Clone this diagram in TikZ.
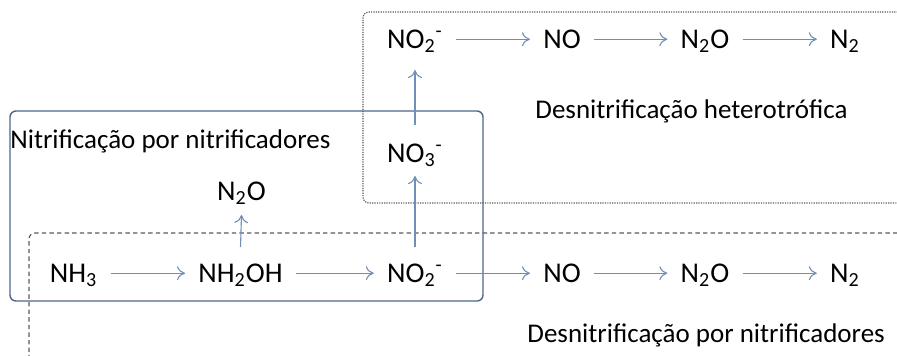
\documentclass[tikz,border=0pt]{standalone}
\usepackage{fontspec}
\setmainfont{Carlito}
\usetikzlibrary{arrows.meta}

\definecolor{flowblue}{HTML}{6F8FB8}
\definecolor{frameblue}{HTML}{4C6789}
\definecolor{framegray}{HTML}{5A5A5A}

\begin{document}
\begin{tikzpicture}[x=0.5pt, y=-0.5pt,
    chem/.style={font=\fontsize{14.3}{17}\selectfont, anchor=base, inner xsep=6.5pt, inner ysep=1pt},
    caption/.style={font=\fontsize{13.5}{16}\selectfont, anchor=base west, inner sep=0pt},
    flow/.style={-{To[length=4pt, width=7pt]}, flowblue, line width=0.55pt}]
  \useasboundingbox (0,0) rectangle (897,355);

  % frames
  \draw[frameblue, line width=0.7pt, rounded corners=3pt] (10,111) rectangle (483,301);
  \draw[framegray, line width=0.6pt, dash pattern=on 0.6pt off 0.6pt, rounded corners=3pt]
    (905,12) -- (363,12) -- (363,203) -- (905,203);
  \draw[framegray, line width=0.6pt, dash pattern=on 2.2pt off 1.6pt, rounded corners=3pt]
    (905,233) -- (29,233) -- (29,365);

  % lower row
  \node[chem] (NH3) at (73.5,282) {NH\textsubscript{3}};
  \node[chem] (NH2OH) at (240.5,282) {NH\textsubscript{2}OH};
  \node[chem] (NO2a) at (415,282) {NO\textsubscript{2}\textsuperscript{-}};
  \node[chem] (NOa) at (562,282) {NO};
  \node[chem] (N2Oa) at (705,282) {N\textsubscript{2}O};
  \node[chem] (N2a) at (845,282) {N\textsubscript{2}};

  % upper row
  \node[chem] (NO2b) at (415,48) {NO\textsubscript{2}\textsuperscript{-}};
  \node[chem] (NOb) at (562,48) {NO};
  \node[chem] (N2Ob) at (705,48) {N\textsubscript{2}O};
  \node[chem] (N2b) at (845,48) {N\textsubscript{2}};

  % side products
  \node[chem] (NO3) at (415,162) {NO\textsubscript{3}\textsuperscript{-}};
  \node[chem] (N2Oc) at (241.5,200) {N\textsubscript{2}O};

  \foreach \from/\to in {NH3/NH2OH, NH2OH/NO2a, NO2a/NOa, NOa/N2Oa, N2Oa/N2a, NO2b/NOb, NOb/N2Ob, N2Ob/N2b}
    \draw[flow] ([yshift=4.4pt]\from.base east) -- ([yshift=4.4pt]\to.base west);

  \draw[flow] ([yshift=17.5pt]NH2OH.base) -- ([yshift=-7.5pt]N2Oc.base);
  \draw[flow] ([yshift=17.5pt]NO2a.base) -- ([yshift=-7pt]NO3.base);
  \draw[flow] ([yshift=18.5pt]NO3.base) -- ([yshift=-11pt]NO2b.base);

  \node[caption] (nitr) at (10,148) {Nitrificação por nitrificadores};
  \node[caption] (hetero) at (535,118) {Desnitrificação heterotrófica};
  \node[caption] (desnitr) at (527,342) {Desnitrificação por nitrificadores};
\end{tikzpicture}
\end{document}
